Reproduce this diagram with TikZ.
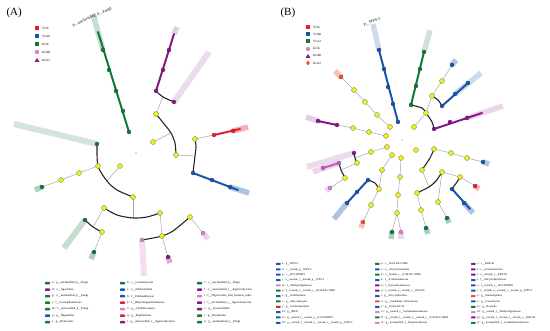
\documentclass[tikz,border=0pt]{standalone}
\usepackage{fontspec}
\setmainfont{Liberation Serif}

\definecolor{cgreen}{RGB}{20,120,60}
\definecolor{cblue}{RGB}{25,85,170}
\definecolor{cred}{RGB}{235,30,40}
\definecolor{cpurple}{RGB}{135,25,135}
\definecolor{cpink}{RGB}{215,130,205}
\definecolor{corange}{RGB}{240,80,50}
\definecolor{cyel}{RGB}{240,240,20}

\tikzset{
  yn/.style={circle,fill=cyel,draw=black!55,line width=0.3pt,inner sep=0pt,minimum size=5pt},
  cn/.style={circle,fill=#1,draw=#1!70!black,line width=0.3pt,inner sep=0pt,minimum size=4pt},
  tl/.style={draw=black!35,line width=0.5pt},
  arcl/.style={draw=black!85,line width=1.1pt},
  clade/.style={draw=#1,line width=2pt,line cap=round},
  hl/.style={draw=#1,line width=5.5pt,opacity=0.35},
  lgtxt/.style={anchor=west,inner sep=0pt,font=\fontsize{3}{3.5}\selectfont},
  keytxt/.style={anchor=west,inner sep=0pt,font=\fontsize{3.2}{4}\selectfont},
}

\begin{document}
\begin{tikzpicture}[x=1pt,y=-1pt]
\useasboundingbox (0,0) rectangle (550,331);

% ---------------- panel A ----------------
\node[anchor=west,font=\fontsize{11}{12}\selectfont] (titA) at (3,13) {(A)};
\coordinate (rA) at (136,153);
\coordinate (gA1) at (129,132); \coordinate (gA2) at (123,111);
\coordinate (gA3) at (116,91);  \coordinate (gA4) at (109,70);
\coordinate (gA5) at (103,50);  \coordinate (gA6) at (98,32);
\coordinate (hA1) at (93,14);
\coordinate (puA1) at (156,91); \coordinate (puA2) at (163,70);
\coordinate (puA3) at (169,50); \coordinate (puA4) at (174,34);
\coordinate (hA2) at (177,27);
\coordinate (pkA1) at (174,102); \coordinate (hA3) at (209,52);
\coordinate (jA1) at (163,97);
\coordinate (yA1) at (156,114); \coordinate (yA2) at (153,142);
\coordinate (yA3) at (176,155); \coordinate (jA2) at (171,133);
\coordinate (yA4) at (195,139); \coordinate (jA3) at (195,156);
\coordinate (bA1) at (193,173);
\coordinate (rdA1) at (214,135); \coordinate (rdA2) at (233,131);
\coordinate (rdA3) at (240,129); \coordinate (hA4) at (248,127);
\coordinate (bA2) at (212,180); \coordinate (bA3) at (230,187);
\coordinate (bA4) at (238,190); \coordinate (hA5) at (249,193);
\coordinate (gA7) at (97,144);  \coordinate (hA6) at (14,124);
\coordinate (yA5) at (98,166);  \coordinate (yA6) at (133,197);
\coordinate (yA7) at (120,166); \coordinate (jA4) at (107,181);
\coordinate (yA8) at (79,173);  \coordinate (yA9) at (61,180);
\coordinate (gA8) at (42,187);  \coordinate (hA7) at (35,190);
\coordinate (jA5) at (133,218);
\coordinate (yA10) at (104,208); \coordinate (yA11) at (160,213);
\coordinate (jA6) at (93,227);
\coordinate (gA9) at (85,220);  \coordinate (yA12) at (102,232);
\coordinate (hA8) at (64,248);
\coordinate (gA10) at (94,252); \coordinate (hA9) at (91,259);
\coordinate (yA13) at (162,236); \coordinate (pkA2) at (142,240);
\coordinate (yA14) at (190,217);
\coordinate (puA5) at (168,257); \coordinate (hA10) at (170,263);
\coordinate (pkA3) at (203,233); \coordinate (hA11) at (208,239);
\coordinate (hA12) at (144,276);

% highlighted clades
\draw[hl=cgreen!70] (gA5) -- (hA1);
\draw[hl=cpurple!60] (puA4) -- (hA2);
\draw[hl=cpurple!45,line width=6pt] (pkA1) -- (hA3);
\draw[hl=cred] (rdA2) -- (hA4);
\draw[hl=cblue] (bA3) -- (hA5);
\draw[hl=cgreen!55,line width=6pt] (gA7) -- (hA6);
\draw[hl=cgreen] (gA8) -- (hA7);
\draw[hl=cgreen!70,line width=6pt] (gA9) -- (hA8);
\draw[hl=cgreen] (gA10) -- (hA9);
\draw[hl=cpurple] (puA5) -- (hA10);
\draw[hl=cpink] (pkA3) -- (hA11);
\draw[hl=cpink!80,line width=6pt] (pkA2) -- (hA12);

% thin links
\draw[tl] (yA1) -- (jA1);
\draw[tl] (yA2) -- (jA2);
\draw[tl] (yA3) -- (jA3);
\draw[tl] (yA4) -- (rdA1);
\draw[tl] (yA7) -- (jA4);
\draw[tl] (yA5) -- (yA8) -- (yA9) -- (gA8);
\draw[tl] (yA6) -- (jA5);
\draw[tl] (yA10) -- (jA6);
\draw[tl] (yA12) -- (gA10);
\draw[tl] (yA11) -- (yA13) -- (puA5);
\draw[tl] (yA14) -- (pkA3);

% arcs
\draw[arcl] plot[smooth] coordinates {(puA1) (jA1) (pkA1)};
\draw[arcl] plot[smooth] coordinates {(yA1) (165,125) (jA2) (175,143) (yA3)};
\draw[arcl] plot[smooth] coordinates {(yA4) (196,147) (jA3) (bA1)};
\draw[arcl] plot[smooth] coordinates {(gA7) (yA5) (jA4) (117,190) (yA6)};
\draw[arcl] plot[smooth] coordinates {(yA10) (117,215) (jA5) (147,217) (yA11)};
\draw[arcl] plot[smooth] coordinates {(gA9) (jA6) (yA12)};
\draw[arcl] plot[smooth] coordinates {(pkA2) (153,238) (yA13) (173,231) (yA14)};

% clade branches
\draw[clade=cgreen] (gA1) -- (gA6);
\draw[clade=cpurple] (puA1) -- (puA4);
\draw[clade=cred] (rdA1) -- (rdA3);
\draw[clade=cblue] (bA1) -- (bA4);

\fill[olive] (rA) circle (0.6pt);
\foreach \p in {yA1,yA2,yA3,yA4,yA5,yA6,yA7,yA8,yA9,yA10,yA11,yA12,yA13,yA14}
  \node[yn] (n\p) at (\p) {};
\foreach \p/\c in {gA1/cgreen,gA2/cgreen,gA3/cgreen,gA4/cgreen,gA5/cgreen,
    puA1/cpurple,puA2/cpurple,puA3/cpurple,pkA1/cpurple,rdA1/cred,rdA2/cred,
    bA1/cblue,bA2/cblue,bA3/cblue,gA7/cgreen,gA8/cgreen,gA9/cgreen,gA10/cgreen,
    puA5/cpurple,pkA2/cpink,pkA3/cpink}
  \node[cn=\c] (n\p) at (\p) {};

\node[rotate=24,font=\fontsize{4}{4}\selectfont] (labA) at (92,17) {p\_\_unclassified\_k\_\_Fungi};

% key A
\fill[cred] (35,26) rectangle ++(4,4);
\fill[cblue] (35,34) rectangle ++(4,4);
\fill[cgreen] (35,42) rectangle ++(4,4);
\fill[cpink] (37,52) circle (2.2pt);
\fill[cpurple] (37,58) -- ++(2.4,4) -- ++(-4.8,0) -- cycle;
\foreach \t [count=\i from 0] in {YCK,YG10,KCK,KG08,KG12}
  \node[keytxt] (kA\i) at (42,28+8*\i) {\t};

% legend A
\foreach \c/\t [count=\i from 0] in {cgreen/{a : p\_\_unclassified\_k\_\_Fungi},
    cpurple/{d : o\_\_Agaricales}, cgreen/{g : o\_\_unclassified\_k\_\_Fungi},
    cgreen/{j : f\_\_Lasiosphaeriaceae}, cgreen/{m : f\_\_unclassified\_k\_\_Fungi},
    cblue/{p : g\_\_Naganishia}, cgreen/{s : g\_\_Retroconis}}{
  \fill[\c,rounded corners=0.6pt] (45,282+6.5*\i) rectangle ++(5,2.4);
  \node[lgtxt] (lAa\i) at (52,283.2+6.5*\i) {\t};
}
\foreach \c/\t [count=\i from 0] in {cgreen/{b : c\_\_Leotiomycetes},
    cblue/{e : o\_\_Filobasidiales}, cblue/{h : f\_\_Filobasidiaceae},
    cred/{k : f\_\_Rhynchogastremataceae}, cpink/{n : g\_\_Cylindrocarpon},
    cred/{q : g\_\_Papiliotrema}, cpurple/{t : g\_\_unclassified\_c\_\_Agaricomycetes}}{
  \fill[\c,rounded corners=0.6pt] (120,282+6.5*\i) rectangle ++(5,2.4);
  \node[lgtxt] (lAb\i) at (127,283.2+6.5*\i) {\t};
}
\foreach \c/\t [count=\i from 0] in {cgreen/{c : c\_\_unclassified\_k\_\_Fungi},
    cpurple/{f : o\_\_unclassified\_c\_\_Agaricomycetes},
    cpink/{i : f\_\_Hypocreales\_fam\_Incertae\_sedis},
    cpurple/{l : f\_\_unclassified\_c\_\_Agaricomycetes}, cpurple/{o : g\_\_Lecanicillium},
    cgreen/{r : g\_\_Paraphoma}, cgreen/{u : g\_\_unclassified\_k\_\_Fungi}}{
  \fill[\c,rounded corners=0.6pt] (197,282+6.5*\i) rectangle ++(5,2.4);
  \node[lgtxt] (lAc\i) at (204,283.2+6.5*\i) {\t};
}

% ---------------- panel B ----------------
\node[anchor=west,font=\fontsize{11}{12}\selectfont] (titB) at (277,13) {(B)};
\coordinate (rB) at (402,140);
\coordinate (bB1) at (398,122); \coordinate (bB2) at (393,104);
\coordinate (bB3) at (388,87);  \coordinate (bB4) at (384,69);
\coordinate (bB5) at (379,50);  \coordinate (hB1) at (373,24);
\coordinate (yB1) at (390,127); \coordinate (yB2) at (377,115);
\coordinate (yB3) at (365,102); \coordinate (yB4) at (354,90);
\coordinate (oB1) at (341,77);  \coordinate (hB2) at (335,71);
\coordinate (yB5) at (386,136); \coordinate (yB6) at (369,132);
\coordinate (yB7) at (353,128); \coordinate (puB1) at (337,125);
\coordinate (puB2) at (318,121); \coordinate (hB3) at (306,117);
\coordinate (gB1) at (411,105); \coordinate (gB2) at (416,86);
\coordinate (gB3) at (420,69);  \coordinate (gB4) at (424,52);
\coordinate (hB4) at (430,30);
\coordinate (yB8) at (426,113); \coordinate (puB3) at (434,129);
\coordinate (yB9) at (414,127);
\coordinate (yB10) at (432,96); \coordinate (yB11) at (442,81);
\coordinate (bB6) at (452,65);  \coordinate (hB5) at (456,60);
\coordinate (bB7) at (442,106); \coordinate (bB8) at (455,94);
\coordinate (bB9) at (468,83);  \coordinate (hB6) at (481,73);
\coordinate (puB4) at (450,122); \coordinate (puB5) at (467,118);
\coordinate (puB6) at (482,113); \coordinate (hB7) at (503,106);
\coordinate (yR1) at (416,150); \coordinate (yR2) at (434,149);
\coordinate (yR2a) at (451,153); \coordinate (yR2b) at (467,158);
\coordinate (bR0) at (483,162); \coordinate (hR1) at (489,164);
\coordinate (yR3) at (422,170);
\coordinate (yR4) at (417,193); \coordinate (jR1) at (429,187);
\coordinate (yR5) at (442,172);
\coordinate (yR6) at (460,177); \coordinate (rdR1) at (475,186);
\coordinate (hR2) at (479,189);
\coordinate (bR1) at (452,189); \coordinate (bR2) at (464,203);
\coordinate (bR3) at (470,209); \coordinate (hR3) at (473,213);
\coordinate (yR7) at (438,202); \coordinate (gR1) at (447,218);
\coordinate (hR4) at (449,223);
\coordinate (yR8) at (421,210); \coordinate (gR2) at (426,228);
\coordinate (hR5) at (428,234);
\coordinate (yC1) at (401,158); \coordinate (yC2) at (400,177);
\coordinate (yC3) at (398,195); \coordinate (yC4) at (397,213);
\coordinate (gC1) at (392,232); \coordinate (hC1) at (391,239);
\coordinate (pkC1) at (401,232); \coordinate (hC2) at (401,239);
\coordinate (yD1) at (392,155); \coordinate (yD2) at (382,170);
\coordinate (yD3) at (379,189); \coordinate (yD4) at (371,205);
\coordinate (rdD1) at (363,222); \coordinate (hD1) at (361,228);
\coordinate (bD1) at (368,180); \coordinate (bD2) at (357,192);
\coordinate (bD3) at (347,203); \coordinate (hD2) at (334,219);
\coordinate (yE1) at (387,147); \coordinate (yE2) at (371,152);
\coordinate (puE1) at (354,153); \coordinate (hE1) at (307,167);
\coordinate (jE1) at (355,158); \coordinate (yE3) at (357,163);
\coordinate (pkE1) at (339,163); \coordinate (pkE2) at (323,168);
\coordinate (hE2) at (313,172);
\coordinate (jE2) at (341,170); \coordinate (yE4) at (345,178);
\coordinate (pkE3) at (330,188); \coordinate (hE3) at (326,191);

% highlighted clades
\draw[hl=cblue!60] (bB5) -- (hB1);
\draw[hl=corange] (oB1) -- (hB2);
\draw[hl=cpurple!60] (puB2) -- (hB3);
\draw[hl=cgreen!60] (gB4) -- (hB4);
\draw[hl=cblue] (bB6) -- (hB5);
\draw[hl=cblue!60] (bB8) -- (hB6);
\draw[hl=cpurple!50] (puB5) -- (hB7);
\draw[hl=cblue] (bR0) -- (hR1);
\draw[hl=cred] (rdR1) -- (hR2);
\draw[hl=cblue] (bR2) -- (hR3);
\draw[hl=cgreen] (gR1) -- (hR4);
\draw[hl=cgreen] (gR2) -- (hR5);
\draw[hl=cgreen] (gC1) -- (hC1);
\draw[hl=cpink] (pkC1) -- (hC2);
\draw[hl=corange] (rdD1) -- (hD1);
\draw[hl=cblue] (bD3) -- (hD2);
\draw[hl=cpurple!45,line width=6pt] (puE1) -- (hE1);
\draw[hl=cpink] (pkE1) -- (hE2);
\draw[hl=cpink] (pkE3) -- (hE3);

% thin links
\draw[tl] (yB1) -- (yB2) -- (yB3) -- (yB4) -- (oB1);
\draw[tl] (yB5) -- (yB6) -- (yB7) -- (puB1);
\draw[tl] (yB9) -- (yB8) -- (yB10) -- (yB11) -- (bB6);
\draw[tl] (yR2) -- (yR2a) -- (yR2b) -- (bR0);
\draw[tl] (yR3) -- (jR1);
\draw[tl] (yR5) -- (yR6) -- (rdR1);
\draw[tl] (yR5) -- (yR7) -- (gR1);
\draw[tl] (yR4) -- (yR8) -- (gR2);
\draw[tl] (yC1) -- (yC2) -- (yC3) -- (yC4) -- (gC1);
\draw[tl] (yC4) -- (pkC1);
\draw[tl] (yD1) -- (yD2) -- (yD3) -- (yD4) -- (rdD1);
\draw[tl] (yE1) -- (yE2) -- (jE1);
\draw[tl] (yE3) -- (jE2);
\draw[tl] (yE4) -- (pkE3);

% arcs
\draw[arcl] plot[smooth] coordinates {(gB1) (422,108) (yB8) (432,122) (puB3)};
\draw[arcl] plot[smooth] coordinates {(yB10) (438,100) (bB7)};
\draw[arcl] plot[smooth] coordinates {(yR2) (430,158) (yR3)};
\draw[arcl] plot[smooth] coordinates {(yR4) (jR1) (436,181) (yR5)};
\draw[arcl] plot[smooth] coordinates {(yR6) (457,182) (bR1)};
\draw[arcl] plot[smooth] coordinates {(bD1) (375,183) (yD3)};
\draw[arcl] plot[smooth] coordinates {(puE1) (jE1) (yE3)};
\draw[arcl] plot[smooth] coordinates {(pkE1) (jE2) (yE4)};

% clade branches
\draw[clade=cblue] (bB1) -- (bB5);
\draw[clade=cpurple] (puB1) -- (puB2);
\draw[clade=cgreen] (gB1) -- (gB4);
\draw[clade=cblue] (bB7) -- (bB9);
\draw[clade=cpurple] (puB3) -- (puB6);
\draw[clade=cblue] (bR1) -- (bR3);
\draw[clade=cblue] (bD1) -- (bD3);
\draw[clade=cpink!70!cpurple] (pkE1) -- (pkE2);

\fill[olive] (rB) circle (0.6pt);
\foreach \p in {yB1,yB2,yB3,yB4,yB5,yB6,yB7,yB8,yB9,yB10,yB11,yR1,yR2,yR2a,yR2b,
    yR3,yR4,yR5,yR6,yR7,yR8,yC1,yC2,yC3,yC4,yD1,yD2,yD3,yD4,yE1,yE2,yE3,yE4}
  \node[yn] (n\p) at (\p) {};
\foreach \p/\c in {bB1/cblue,bB2/cblue,bB3/cblue,bB4/cblue,bB5/cblue,oB1/corange,
    puB1/cpurple,puB2/cpurple,gB1/cgreen,gB2/cgreen,gB3/cgreen,gB4/cgreen,
    puB3/cpurple,puB4/cpurple,puB5/cpurple,bB6/cblue,bB7/cblue,bB8/cblue,bB9/cblue,
    bR0/cblue,rdR1/cred,bR1/cblue,bR2/cblue,gR1/cgreen,gR2/cgreen,gC1/cgreen,
    pkC1/cpink,rdD1/corange,bD1/cblue,bD2/cblue,bD3/cblue,puE1/cpurple,
    pkE1/cpink!70!cpurple,pkE2/cpink!70!cpurple,pkE3/cpink}
  \node[cn=\c] (n\p) at (\p) {};

\node[rotate=20,font=\fontsize{4}{4}\selectfont] (labB) at (372,22) {p\_\_WPS-2};

% key B
\fill[cred] (306,25) rectangle ++(4,4);
\fill[cblue] (306,32) rectangle ++(4,4);
\fill[cgreen] (306,39.5) rectangle ++(4,4);
\fill[cpink] (308,49) circle (2.2pt);
\fill[cpurple] (308,54) -- ++(2.4,4) -- ++(-4.8,0) -- cycle;
\fill[corange] (308,60.5) -- ++(1.8,2.5) -- ++(-1.8,2.5) -- ++(-1.8,-2.5) -- cycle;
\foreach \t [count=\i from 0] in {YCK,YG08,YG12,KCK,KG08,KG12}
  \node[keytxt] (kB\i) at (313,27+7.2*\i) {\t};

% legend B
\foreach \c/\t [count=\i from 0] in {cblue/{a : p\_\_WPS-2},
    cblue/{d : c\_\_norank\_p\_\_WPS-2}, cblue/{g : c\_\_KCI-WMSP1},
    cblue/{j : o\_\_norank\_c\_\_norank\_p\_\_WPS-2}, cpink/{m : f\_\_Methyloligellaceae},
    cgreen/{p : f\_\_norank\_o\_\_norank\_c\_\_JG30-KF-CM66}, cblue/{s : g\_\_Acidiferrimus},
    cgreen/{v : g\_\_Amycolatopsis}, cred/{y : g\_\_Gordonimorphia},
    cblue/{b1 : g\_\_RB41}, cblue/{e1 : g\_\_norank\_f\_\_norank\_o\_\_KCI-WMSP1},
    cblue/{h1 : g\_\_norank\_f\_\_norank\_o\_\_norank\_c\_\_norank\_p\_\_WPS-2}}{
  \fill[\c,rounded corners=0.5pt] (276,263+5.35*\i) rectangle ++(4.5,2);
  \node[lgtxt,font=\fontsize{2.8}{3}\selectfont] (lBa\i) at (282,264+5.35*\i) {\t};
}
\foreach \c/\t [count=\i from 0] in {cgreen/{b : c\_\_JG30-KF-CM66},
    cblue/{e : o\_\_Alicyclobacillales}, cgreen/{h : o\_\_norank\_c\_\_JG30-KF-CM66},
    cblue/{k : f\_\_Acidothermaceae}, cpurple/{n : f\_\_Pyrinomonadaceae},
    cpurple/{q : f\_\_norank\_o\_\_norank\_c\_\_KD4-96}, cblue/{t : g\_\_Alicyclobacillus},
    corange/{w : g\_\_Candidatus\_Udaeobacter}, cblue/{z : g\_\_JG30a-KF-32},
    cpink/{c1 : g\_\_norank\_f\_\_Gemmatimonadaceae},
    cgreen/{f1 : g\_\_norank\_f\_\_norank\_o\_\_norank\_c\_\_JG30-KF-CM66},
    cpink/{i1 : g\_\_unclassified\_f\_\_Beijerinckiaceae}}{
  \fill[\c,rounded corners=0.5pt] (375,263+5.35*\i) rectangle ++(4.5,2);
  \node[lgtxt,font=\fontsize{2.8}{3}\selectfont] (lBb\i) at (381,264+5.35*\i) {\t};
}
\foreach \c/\t [count=\i from 0] in {cpurple/{c : c\_\_KD4-96},
    cpurple/{f : o\_\_Acetobacterales}, cpurple/{i : o\_\_norank\_c\_\_KD4-96},
    cblue/{l : f\_\_Alicyclobacillaceae}, cblue/{o : f\_\_norank\_o\_\_KCI-WMSP1},
    cblue/{r : f\_\_norank\_o\_\_norank\_c\_\_norank\_p\_\_WPS-2},
    corange/{u : g\_\_Ammoniphilus}, cblue/{x : g\_\_Conexibacter},
    cgreen/{a1 : g\_\_Nocardia}, cpink/{d1 : g\_\_norank\_f\_\_Methyloligellaceae},
    cpurple/{g1 : g\_\_norank\_f\_\_norank\_o\_\_norank\_c\_\_KD4-96},
    cgreen/{j1 : g\_\_unclassified\_f\_\_Gemmatimonadaceae}}{
  \fill[\c,rounded corners=0.5pt] (471,263+5.35*\i) rectangle ++(4.5,2);
  \node[lgtxt,font=\fontsize{2.8}{3}\selectfont] (lBc\i) at (477,264+5.35*\i) {\t};
}
\end{tikzpicture}
\end{document}
